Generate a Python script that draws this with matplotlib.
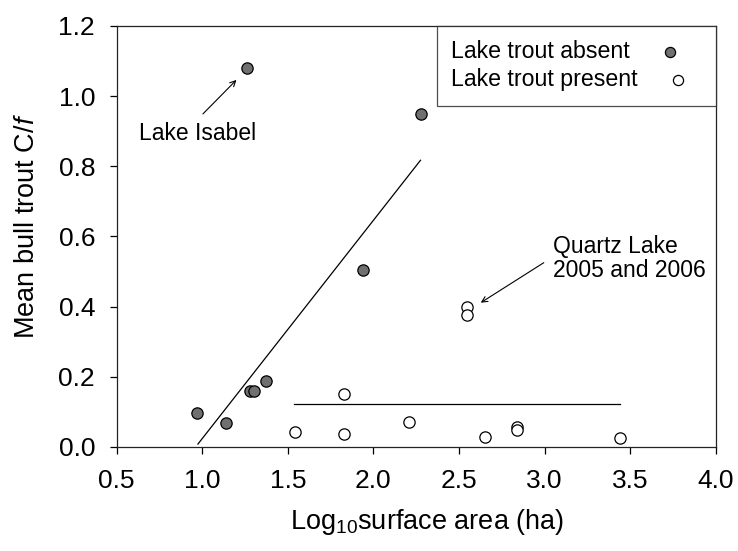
import matplotlib.pyplot as plt

plt.rcParams['font.family'] = ['Liberation Sans', 'DejaVu Sans']
plt.rcParams['mathtext.fontset'] = 'custom'
plt.rcParams['mathtext.rm'] = 'Liberation Sans'
plt.rcParams['mathtext.it'] = 'Liberation Sans:italic'

# lakes without lake trout
absent_x = [0.97, 1.14, 1.28, 1.305, 1.375, 1.94, 2.275, 1.26]
absent_y = [0.097, 0.069, 0.160, 0.158, 0.187, 0.503, 0.948, 1.080]

# lakes with lake trout
present_x = [1.54, 1.83, 1.83, 2.21, 2.65, 2.84, 2.84, 3.44, 2.545, 2.545]
present_y = [0.042, 0.150, 0.037, 0.072, 0.028, 0.058, 0.049, 0.026, 0.399, 0.377]

# fitted lines (end points)
fit_absent_x = [0.975, 2.275]
fit_absent_y = [0.008, 0.817]
fit_present_x = [1.535, 3.44]
fit_present_y = [0.122, 0.122]

fig = plt.figure(figsize=(7.38, 5.51), dpi=100)
ax = fig.add_axes([0.158, 0.189, 0.812, 0.764])

ax.plot(fit_absent_x, fit_absent_y, color='black', lw=0.9)
ax.plot(fit_present_x, fit_present_y, color='black', lw=0.9)

ax.scatter(absent_x, absent_y, s=66, facecolor='#707070', edgecolor='black',
           linewidth=0.9, zorder=3, label='Lake trout absent')
ax.scatter(present_x, present_y, s=66, facecolor='white', edgecolor='black',
           linewidth=0.9, zorder=3, label='Lake trout present')

ax.set_xlim(0.5, 4.0)
ax.set_ylim(0.0, 1.2)
ax.set_xticks([0.5, 1.0, 1.5, 2.0, 2.5, 3.0, 3.5, 4.0])
ax.set_yticks([0.0, 0.2, 0.4, 0.6, 0.8, 1.0, 1.2])
ax.xaxis.set_major_formatter(plt.FormatStrFormatter('%.1f'))
ax.yaxis.set_major_formatter(plt.FormatStrFormatter('%.1f'))
ax.tick_params(direction='out', length=5, width=0.9, labelsize=19)
ax.tick_params(axis='y', pad=10.5)
ax.tick_params(axis='x', pad=11)
for sp in ax.spines.values():
    sp.set_linewidth(0.9)
    sp.set_color('#222222')

ax.set_xlabel('Log$_{10}$surface area (ha)', fontsize=19.5, labelpad=10)
ax.set_ylabel('Mean bull trout C/$\\it{f}$', fontsize=19.5, labelpad=13)
ax.xaxis.label.set_x(0.518)
ax.yaxis.label.set_y(0.525)

# annotations
ax.text(0.63, 0.892, 'Lake Isabel', fontsize=16.5, ha='left', va='center')
ax.annotate('', xy=(1.20, 1.046), xytext=(1.004, 0.949),
            arrowprops=dict(arrowstyle='->', color='black', lw=0.8,
                            shrinkA=0, shrinkB=0))
ax.annotate('', xy=(2.627, 0.411), xytext=(2.995, 0.525),
            arrowprops=dict(arrowstyle='->', color='black', lw=0.8,
                            shrinkA=0, shrinkB=0))
ax.text(3.047, 0.537, 'Quartz Lake\n2005 and 2006', fontsize=16.5,
        ha='left', va='center', linespacing=1.1)

leg = ax.legend(loc='upper right', markerfirst=False, fontsize=16.7,
                frameon=True, fancybox=False, borderaxespad=0,
                handletextpad=0.75, borderpad=0.62, labelspacing=0.22,
                markerscale=0.9, handlelength=2.0)
leg.get_frame().set_edgecolor('#222222')
leg.get_frame().set_linewidth(0.9)
# texts left aligned, markers follow each text
for col in leg._legend_handle_box.get_children():
    col.align = 'left'

fig.savefig('out.png', dpi=100)
